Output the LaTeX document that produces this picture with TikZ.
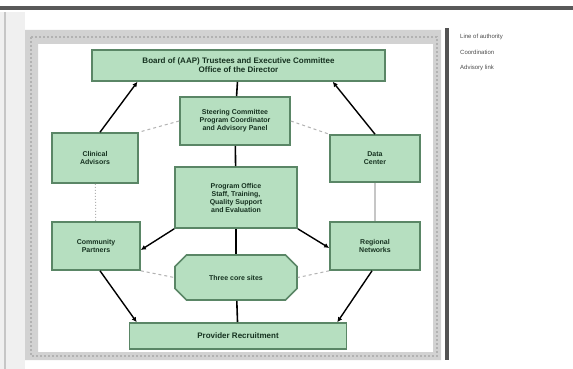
\documentclass[tikz,border=0pt]{standalone}
\usepackage{fontspec}
\setmainfont{Liberation Sans}
\usetikzlibrary{calc,arrows.meta,shapes.misc}
\definecolor{boxfill}{HTML}{B6DFC0}
\definecolor{boxline}{HTML}{5A8666}
\definecolor{txt}{HTML}{163220}
\tikzset{
  gbox/.style={draw=boxline,line width=1.6pt,fill=boxfill,inner sep=1pt,align=center,
    font=\fontsize{7}{8}\selectfont\bfseries,text=txt},
  rbox/.style={gbox,chamfered rectangle,chamfered rectangle xsep=8pt,chamfered rectangle ysep=8pt},
  solidln/.style={black,line width=1.6pt},
  arr/.style={black,line width=1.4pt,-{Latex[length=5pt,width=5pt]}},
  faint/.style={gray!60,line width=1pt,dashed},
  legtxt/.style={font=\fontsize{6}{7}\selectfont,text=gray!60!black,anchor=west,inner sep=0pt}
}
\begin{document}
\begin{tikzpicture}[x=1pt,y=-1pt]
\useasboundingbox (0,0) rectangle (573,369);
\fill[white] (0,0) rectangle (573,369);
% left margin tone
\fill[gray!12] (0,12) rectangle (25,369);
\draw[gray!45,line width=2pt] (5,12) -- (5,369);
% top dark rule
\fill[gray!70!black] (0,6) rectangle (573,10);
% outer textured frame
\fill[gray!35,even odd rule] (25,30) rectangle (441,360) (38,44) rectangle (433,352);
\draw[gray!60,line width=2pt,dash pattern=on 2pt off 2pt] (31,37) rectangle (437,356);
\fill[gray!65!black] (445,28) rectangle (449,360);
% legend
\node[legtxt] (lg1) at (460,37) {Line of authority};
\node[legtxt] (lg2) at (460,52) {Coordination};
\node[legtxt] (lg3) at (460,68) {Advisory link};

% boxes
\node[gbox,minimum width=293,minimum height=31,font=\fontsize{8}{9}\selectfont\bfseries] (top) at (238.5,65.5)
  {Board of (AAP) Trustees and Executive Committee\\Office of the Director};
\node[gbox,minimum width=110,minimum height=48] (uc) at (235,121)
  {Steering Committee\\Program Coordinator\\and Advisory Panel};
\node[gbox,minimum width=86,minimum height=50] (ul) at (95,158)
  {Clinical\\Advisors};
\node[gbox,minimum width=90,minimum height=47] (ur) at (375,158.5)
  {Data\\Center};
\node[gbox,minimum width=122,minimum height=61] (cc) at (236,197.5)
  {Program Office\\Staff, Training,\\Quality Support\\and Evaluation};
\node[gbox,minimum width=88,minimum height=48] (ll) at (96,246)
  {Community\\Partners};
\node[gbox,minimum width=90,minimum height=48] (lr) at (375,246)
  {Regional\\Networks};
\node[rbox,minimum width=122,minimum height=45] (lc) at (236,277.5)
  {Three core sites};
\node[gbox,minimum width=217,minimum height=26,font=\fontsize{8}{9}\selectfont\bfseries] (bot) at (238,336)
  {Provider Recruitment};

% connectors
\draw[solidln] (top) -- (uc);
\draw[solidln] (uc) -- (cc);
\draw[solidln] (cc) -- (lc);
\draw[solidln] (lc) -- (bot);
\draw[arr] ([xshift=5pt]ul.north) -- ($(top.south west)!0.157!(top.south east)$);
\draw[arr] (ur.north) -- ($(top.south west)!0.82!(top.south east)$);
\draw[faint] (uc.west) -- (ul.north east);
\draw[faint] (uc.east) -- (ur.north west);
\draw[faint,dotted] (ul) -- (ll);
\draw[gray!45,line width=1.5pt] (ur) -- (lr);
\draw[arr] (cc.south west) -- ([yshift=-4pt]ll.east);
\draw[arr] (cc.south east) -- ([yshift=-2pt]lr.west);
\draw[faint] (ll.south east) -- (lc.west);
\draw[faint] (lr.south west) -- (lc.east);
\draw[arr] ([xshift=4pt]ll.south) -- ([xshift=8pt]bot.north west);
\draw[arr] ([xshift=-3pt]lr.south) -- ([xshift=-10pt]bot.north east);
\end{tikzpicture}
\end{document}
